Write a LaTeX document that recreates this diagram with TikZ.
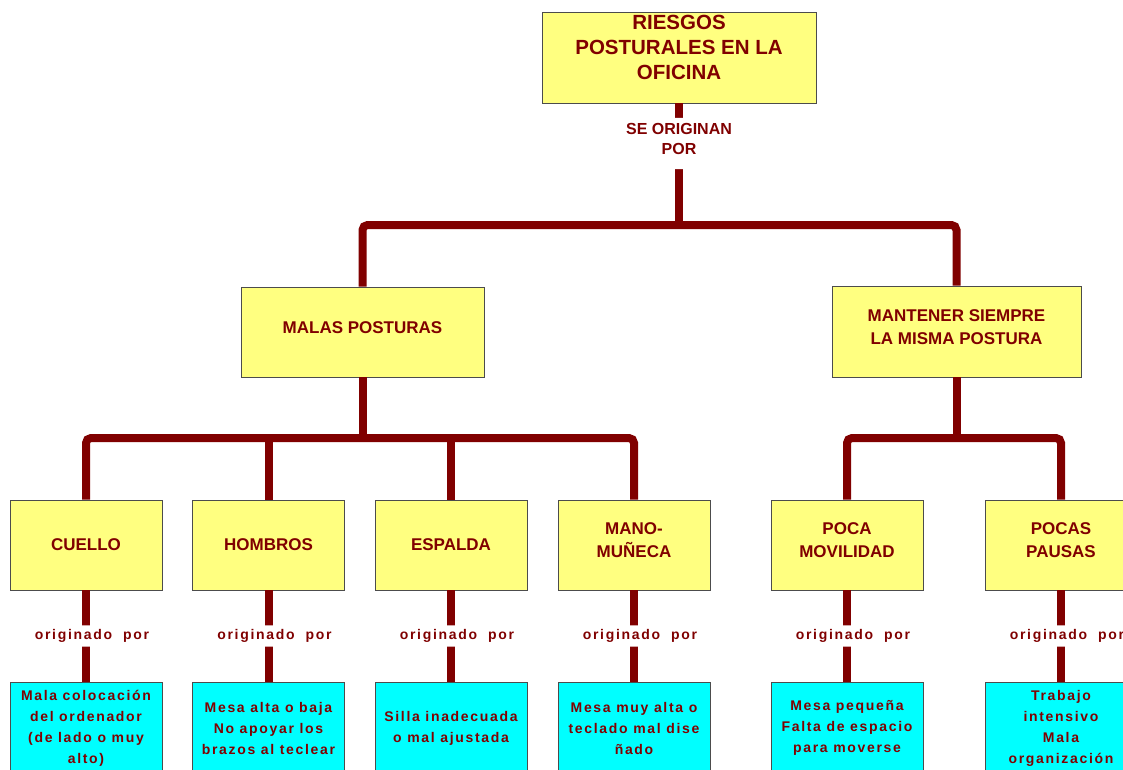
\documentclass[tikz,border=0pt]{standalone}
\usepackage{fontspec}
\setmainfont{Liberation Sans}
\definecolor{linkred}{HTML}{800000}
\definecolor{paleyellow}{HTML}{FFFF80}
\definecolor{aqua}{HTML}{00FFFF}
\tikzset{
  box/.style={draw=black!70, line width=0.8pt, inner sep=0pt, align=center,
    text=linkred, font=\bfseries\fontsize{17}{23}\selectfont},
  ybox/.style={box, fill=paleyellow, minimum width=152pt, minimum height=90pt},
  lifted/.style={text depth=#1},
  lifted/.default=9pt,
  cbox/.style={box, fill=aqua, minimum width=152pt, minimum height=92pt,
    font=\bfseries\addfontfeatures{LetterSpace=12}\fontsize{14}{21}\selectfont},
  conn/.style={draw=linkred, line width=8pt, rounded corners=5pt},
  lab/.style={fill=white, text=linkred, inner sep=4pt, align=center, xshift=6pt,
    font=\bfseries\addfontfeatures{LetterSpace=12}\fontsize{14}{20}\selectfont},
  toplab/.style={fill=white, text=linkred, inner sep=5pt, align=center,
    text depth=10pt, font=\bfseries\fontsize{16}{20}\selectfont},
}
\begin{document}
\begin{tikzpicture}[x=1pt,y=-1pt]
\useasboundingbox (0,0) rectangle (1123,769);
\clip (0,0) rectangle (1123,769);

% root
\node[box, fill=paleyellow, minimum width=274pt, minimum height=91pt] (root) at (679,57.5) {};
\node[text=linkred, align=center, font=\bfseries\fontsize{20.5}{25}\selectfont] (roottext) at (679,47) {RIESGOS\\POSTURALES EN LA\\OFICINA};

% second level
\node[box, lifted, fill=paleyellow, minimum width=243pt, minimum height=90pt] (malas) at (362.5,332) {MALAS POSTURAS};
\node[box, lifted, fill=paleyellow, minimum width=249pt, minimum height=91pt] (mant) at (956.5,331.5) {MANTENER SIEMPRE\\LA MISMA POSTURA};

% third level
\node[ybox] (cuello)  at (86,545)   {CUELLO};
\node[ybox] (hombros) at (268.5,545) {HOMBROS};
\node[ybox] (espalda) at (451,545)  {ESPALDA};
\node[ybox, lifted=10pt] (mano)    at (634,545)  {MANO-\\MUÑECA};
\node[ybox, lifted=10pt] (poca)    at (847,545)  {POCA\\MOVILIDAD};
\node[ybox, lifted=10pt] (pocas)   at (1061,545) {POCAS\\PAUSAS};

% causes
\node[cbox] (c1) at (86,728)    {Mala colocación\\del ordenador\\(de lado o muy\\alto)};
\node[cbox] (c2) at (268.5,728) {Mesa alta o baja\\No apoyar los\\brazos al teclear};
\node[cbox] (c3) at (451,728)   {Silla inadecuada\\o mal ajustada};
\node[cbox] (c4) at (634,728)   {Mesa muy alta o\\teclado mal dise\\ñado};
\node[cbox] (c5) at (847,728)   {Mesa pequeña\\Falta de espacio\\para moverse};
\node[cbox] (c6) at (1061,728)  {Trabajo\\intensivo\\Mala\\organización};

% junctions
\coordinate (j1) at (679,225);
\coordinate (j2) at (362.5,438);
\coordinate (j3) at (956.5,438);

% trunk and first branches
\draw[conn] (root.south) -- node[toplab, pos=0.33] {SE ORIGINAN\\POR} (j1);
\draw[conn] (malas.north) |- (j1) -| (mant.north);

% branches under MALAS POSTURAS
\draw[conn] (malas.south) -- (j2);
\draw[conn] (cuello.north) |- (mano.north |- j2) -- (mano.north);
\draw[conn] (hombros.north |- j2) -- (hombros.north);
\draw[conn] (espalda.north |- j2) -- (espalda.north);

% branches under MANTENER SIEMPRE
\draw[conn] (mant.south) -- (j3);
\draw[conn] (poca.north) |- (pocas.north |- j3) -- (pocas.north);

% causes
\draw[conn] (cuello.south)  -- node[lab] {originado\ \ por} (c1.north);
\draw[conn] (hombros.south) -- node[lab] {originado\ \ por} (c2.north);
\draw[conn] (espalda.south) -- node[lab] {originado\ \ por} (c3.north);
\draw[conn] (mano.south)    -- node[lab] {originado\ \ por} (c4.north);
\draw[conn] (poca.south)    -- node[lab] {originado\ \ por} (c5.north);
\draw[conn] (pocas.south)   -- node[lab] {originado\ \ por} (c6.north);
\end{tikzpicture}
\end{document}
